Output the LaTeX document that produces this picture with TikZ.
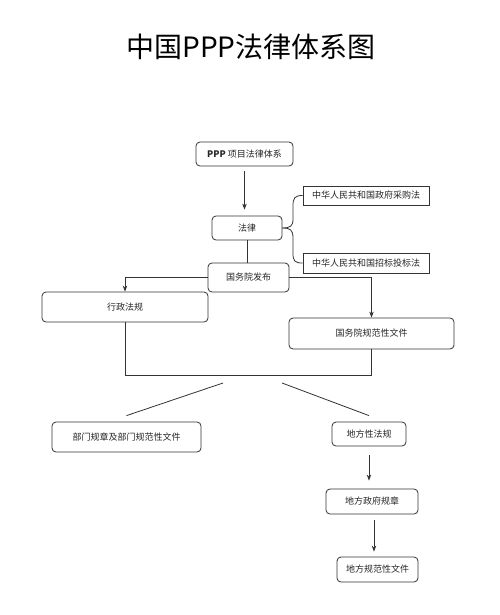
\documentclass[tikz,border=0pt]{standalone}
\usepackage{fontspec}
\newfontfamily\cjk{Noto Sans CJK SC}
\usetikzlibrary{arrows.meta,calc}
\begin{document}
\begin{tikzpicture}[x=1pt,y=-1pt,
  every node/.style={font=\cjk\fontsize{9}{10}\selectfont, text=black!85},
  rbox/.style={draw=black!80, line width=0.8pt, rounded corners=4pt, inner sep=0pt, minimum width=#1},
  sbox/.style={draw=black!80, line width=0.8pt, inner sep=0pt, minimum width=#1},
  conn/.style={draw=black!80, line width=0.8pt},
  arr/.style={conn, -{Stealth[length=6pt,width=4.5pt]}}
]
\useasboundingbox (0,0) rectangle (500,615);
\fill[white] (0,0) rectangle (500,615);
\node[font=\cjk\fontsize{28}{30}\selectfont, text=black] (title) at (251,47) {中国PPP法律体系图};

\node[rbox=97pt, minimum height=24pt] (ppp) at (244.5,154) {\textbf{PPP} 项目法律体系};
\node[rbox=70pt, minimum height=24pt] (law) at (247,228) {法律};
\node[sbox=126pt, minimum height=19pt] (cg) at (366,195.5) {中华人民共和国政府采购法};
\node[sbox=126pt, minimum height=20pt] (zb) at (366,263) {中华人民共和国招标投标法};
\node[rbox=81pt, minimum height=29pt] (gwy) at (248.5,277.5) {国务院发布};
\node[rbox=166pt, minimum height=30pt] (xz) at (125,307) {行政法规};
\node[rbox=165pt, minimum height=31pt] (gf) at (371.5,333.5) {国务院规范性文件};
\node[rbox=149pt, minimum height=30pt] (bm) at (126.5,437) {部门规章及部门规范性文件};
\node[rbox=74pt, minimum height=24pt] (df) at (369,434) {地方性法规};
\node[rbox=92pt, minimum height=25pt] (dz) at (372,501.5) {地方政府规章};
\node[rbox=81pt, minimum height=25pt] (dg) at (377.5,569.5) {地方规范性文件};

\coordinate (j) at (0,375);
\coordinate (dl) at (223,383);
\coordinate (dr) at (282,383);

% arrows
\draw[arr, shorten <=5pt, shorten >=6pt] (ppp.south) -- (ppp.south |- law.north);
\draw[conn] (law.south) -- (law.south |- gwy.north);
\draw[arr] (gwy.west) -| (xz.north);
\draw[arr] (gwy.east) -| (gf.north);
\draw[conn] (xz.south) -- (xz.south |- j) -- (gf.south |- j) -- (gf.south);
\draw[conn] (dl) -- ([yshift=6pt]bm.north);
\draw[conn] (dr) -- ([yshift=6pt]df.north);
\draw[arr, shorten <=9pt, shorten >=8pt] (df.south) -- (df.south |- dz.north);
\draw[arr, shorten <=6pt, shorten >=5pt] ([xshift=2pt]dz.south) -- ([xshift=2pt]dz.south |- dg.north);

% braces
\draw[conn] (cg.west) .. controls +(-8,0) and +(0,-8) .. (293,206) -- (293,219) .. controls +(0,7) and +(8,0) .. (law.east);
\draw[conn] (zb.west) .. controls +(-8,0) and +(0,8) .. (293,253) -- (293,238) .. controls +(0,-8) and +(8,0) .. (law.east);
\end{tikzpicture}
\end{document}
